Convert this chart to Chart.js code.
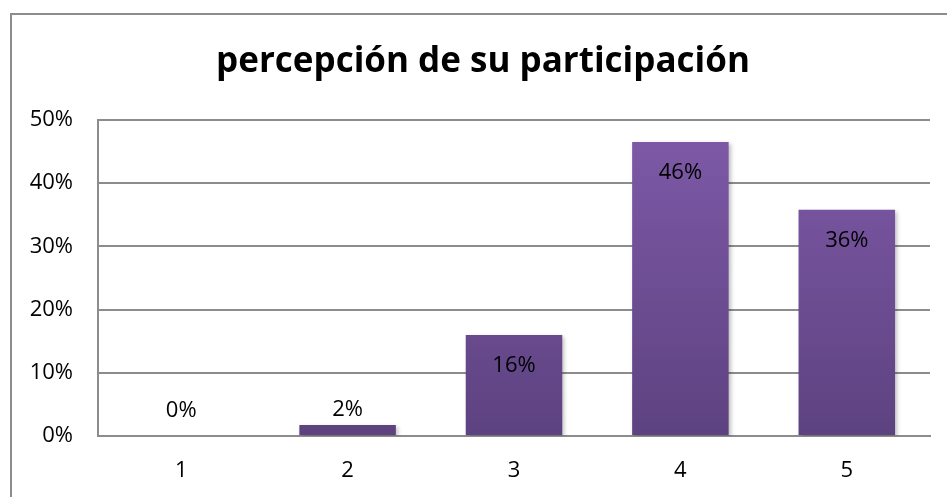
<!DOCTYPE html>
<html>
<head>
  <meta charset="utf-8">
  <title>percepción de su participación</title>
  <script src="https://cdn.jsdelivr.net/npm/chart.js"></script>
  <style>
    html, body { margin: 0; padding: 0; background: #fff; }
    #wrap { position: relative; width: 947px; height: 497px; overflow: hidden; }
    #frame {
      position: absolute; left: 10px; top: 13px;
      width: 1000px; height: 600px;
      border: 2px solid #8c8c8c; box-sizing: border-box;
    }
    #chart { position: absolute; left: 0; top: 0; }
  </style>
</head>
<body>
  <div id="wrap">
    <div id="frame"></div>
    <canvas id="chart" width="947" height="497"></canvas>
  </div>

  <script>
    const chartTitle = "percepción de su participación";
    const categories = ["1", "2", "3", "4", "5"];
    const values = [0, 0.0174, 0.160, 0.465, 0.358];
    const valueLabels = ["0%", "2%", "16%", "46%", "36%"];
    const yTicks = [0, 0.1, 0.2, 0.3, 0.4, 0.5];

    const FONT = "'Open Sans', 'Noto Sans', sans-serif";

    // title sits a bit right of the canvas centre, like in the Excel original
    const titlePlugin = {
      id: 'titlePlugin',
      afterDraw(chart) {
        const ctx = chart.ctx;
        ctx.save();
        ctx.font = "bold 35px " + FONT;
        ctx.fillStyle = "#000";
        ctx.textAlign = "center";
        ctx.textBaseline = "alphabetic";
        ctx.fillText(chartTitle, 483, 72);
        ctx.restore();
      }
    };

    // Excel style labels: inside the top of the bar, above it if the bar is too short
    const barLabels = {
      id: 'barLabels',
      afterDatasetsDraw(chart) {
        const ctx = chart.ctx;
        const meta = chart.getDatasetMeta(0);
        ctx.save();
        ctx.font = "22px " + FONT;
        ctx.fillStyle = "#000";
        ctx.textAlign = "center";
        ctx.textBaseline = "middle";
        meta.data.forEach((bar, i) => {
          const h = bar.base - bar.y;
          const y = h > 45 ? bar.y + 31 : Math.min(bar.y - 15, bar.base - 25);
          ctx.fillText(valueLabels[i], bar.x, y);
        });
        ctx.restore();
      }
    };

    const barShadow = {
      id: 'barShadow',
      beforeDatasetDraw(chart) {
        const ctx = chart.ctx;
        ctx.save();
        ctx.shadowColor = "rgba(0,0,0,0.25)";
        ctx.shadowBlur = 4;
        ctx.shadowOffsetX = 2;
        ctx.shadowOffsetY = 2;
      },
      afterDatasetDraw(chart) {
        chart.ctx.restore();
      }
    };

    function purple(context) {
      const area = context.chart.chartArea;
      if (!area) return "#6e4f96";
      const g = context.chart.ctx.createLinearGradient(0, area.top, 0, area.bottom);
      g.addColorStop(0, "#7f5aa9");
      g.addColorStop(1, "#5d4280");
      return g;
    }

    new Chart(document.getElementById("chart"), {
      type: "bar",
      data: {
        labels: categories,
        datasets: [{
          data: values,
          backgroundColor: purple,
          borderWidth: 0,
          barPercentage: 0.58,
          categoryPercentage: 1.0
        }]
      },
      options: {
        responsive: false,
        animation: false,
        layout: { padding: { left: 0, right: 17, top: 120, bottom: 13 } },
        plugins: {
          legend: { display: false },
          tooltip: { enabled: false },
          title: { display: false }
        },
        scales: {
          x: {
            afterFit(scale) { scale.height = 48; },
            grid: { display: false, drawTicks: false },
            border: { color: "#8c8c8c", width: 2 },
            ticks: { color: "#000", font: { family: FONT, size: 22 }, padding: 22 }
          },
          y: {
            min: 0,
            max: 0.5,
            afterBuildTicks(scale) { scale.ticks = yTicks.map(v => ({ value: v })); },
            afterFit(scale) { scale.width = 98; },
            grid: { color: "#8c8c8c", lineWidth: 2, drawTicks: false },
            border: { color: "#8c8c8c", width: 2 },
            ticks: {
              color: "#000",
              font: { family: FONT, size: 22 },
              padding: 25,
              callback: v => Math.round(v * 100) + "%"
            }
          }
        }
      },
      plugins: [barShadow, barLabels, titlePlugin]
    });
  </script>
</body>
</html>
